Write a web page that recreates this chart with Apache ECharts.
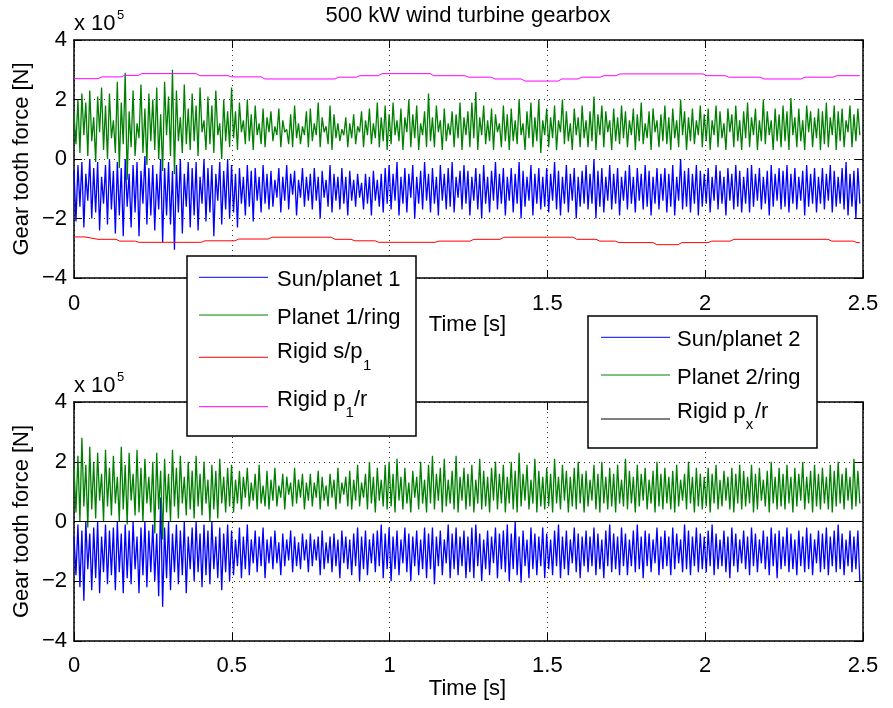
<!DOCTYPE html>
<html>
<head>
<meta charset="utf-8">
<script src="https://cdn.jsdelivr.net/npm/echarts@6/dist/echarts.min.js"></script>
<style>
html,body{margin:0;padding:0;background:#fff;}
#chart{width:893px;height:708px;}
</style>
</head>
<body>
<div id="chart"></div>
<script>
// ---------- DATA (forces in units of 1e5 N, time in s) ----------
const timeStart = 0;
const timeEnd = 2.49;
const xTickValues = [0, 0.5, 1, 1.5, 2, 2.5];
const yTickValues = [-4, -2, 0, 2, 4];

// Top plot: Sun/planet 1 (blue)
const sunPlanet1 = [
-0.4,-2.1,-0.2,-1.6,-0.1,-2.3,-0.5,-1.4,0.0,-2.0,-0.3,-1.8,-0.1,-2.4,-0.6,-1.5,-0.2,-2.2,0.0,-1.7,
-0.4,-2.5,-0.1,-1.9,-0.3,-2.6,0.0,-1.6,-0.5,-2.3,-0.2,-1.8,-0.1,-2.6,-0.4,-1.5,0.1,-2.2,-0.3,-1.9,
-0.2,-2.4,-0.5,-1.7,0.0,-2.8,-0.3,-1.9,-0.1,-2.2,-0.4,-3.05,-0.2,-1.8,0.0,-2.5,-0.5,-1.6,-0.1,-2.3,
-0.3,-1.9,-0.1,-2.4,-0.6,-1.5,0.0,-2.1,-0.3,-1.8,-0.2,-2.6,-0.5,-1.4,-0.1,-2.2,-0.4,-1.7,0.0,-2.0,
-0.2,-1.8,-0.5,-2.3,-0.3,-1.5,-0.6,-1.9,-0.2,-1.6,-0.4,-2.1,-0.3,-1.4,-0.6,-1.8,-0.2,-1.5,-0.5,-1.7,
-0.4,-1.6,-0.7,-1.3,-0.3,-1.8,-0.6,-1.4,-0.2,-1.7,-0.5,-1.2,-0.4,-1.9,-0.7,-1.3,-0.3,-1.6,-0.6,-1.4,
-0.5,-1.7,-0.3,-1.4,-0.6,-2.0,-0.4,-1.3,-0.7,-1.6,-0.2,-1.8,-0.5,-1.4,-0.6,-1.7,-0.3,-1.5,-0.6,-1.9,
-0.4,-1.4,-0.7,-1.6,-0.5,-1.3,-0.8,-1.7,-0.5,-1.5,-0.6,-1.9,-0.4,-1.4,-0.7,-1.6,-0.5,-1.8,-0.3,-1.5,
-0.2,-1.7,-0.5,-1.4,-0.1,-1.9,-0.6,-1.5,-0.3,-1.8,-0.5,-1.3,-0.2,-2.0,-0.6,-1.5,-0.4,-1.7,-0.1,-1.4,
-0.5,-1.8,-0.3,-1.5,-0.6,-1.9,-0.2,-1.4,-0.5,-1.7,-0.3,-1.6,-0.1,-1.8,-0.6,-1.3,-0.4,-1.7,-0.2,-1.5,
-0.4,-1.9,-0.6,-1.4,-0.3,-1.7,-0.5,-2.0,-0.2,-1.5,-0.6,-1.8,-0.4,-1.4,-0.1,-1.7,-0.5,-1.5,-0.3,-1.9,
-0.6,-1.4,-0.3,-1.8,-0.5,-1.5,-0.1,-2.0,-0.4,-1.6,-0.6,-1.4,-0.2,-1.9,-0.5,-1.5,-0.3,-1.7,-0.6,-1.6,
-0.3,-1.8,-0.5,-1.4,-0.1,-1.7,-0.4,-1.9,-0.6,-1.5,-0.2,-1.8,-0.5,-1.4,-0.3,-2.0,-0.6,-1.6,-0.4,-1.5,
-0.2,-1.7,-0.5,-1.5,0.0,-2.0,-0.4,-1.6,-0.3,-1.8,-0.6,-1.4,-0.2,-1.7,-0.5,-1.5,-0.3,-1.9,-0.6,-1.4,
-0.4,-1.7,-0.2,-1.5,-0.6,-1.8,-0.3,-1.4,-0.5,-1.7,-0.2,-1.6,-0.4,-1.9,-0.6,-1.5,-0.3,-1.7,-0.5,-1.4,
-0.3,-1.8,-0.5,-1.6,-0.2,-1.9,-0.6,-1.4,0.0,-1.7,-0.4,-1.6,-0.3,-1.8,-0.5,-1.5,-0.2,-1.9,-0.4,-1.6,
-0.5,-1.5,-0.3,-1.8,-0.6,-1.4,-0.2,-1.7,-0.4,-1.5,-0.6,-1.9,-0.3,-1.4,-0.5,-1.7,-0.2,-1.6,-0.4,-1.8,
-0.6,-1.5,-0.3,-1.8,-0.2,-1.6,-0.5,-1.4,-0.3,-1.7,-0.6,-1.5,-0.4,-1.9,-0.2,-1.6,-0.5,-1.4,-0.3,-1.7,
-0.4,-1.6,-0.2,-1.8,-0.5,-1.5,-0.3,-1.7,-0.6,-1.4,-0.4,-1.9,-0.2,-1.6,-0.5,-1.5,-0.3,-1.8,-0.6,-1.5,
-0.3,-1.7,-0.5,-1.4,-0.2,-1.8,-0.4,-1.6,-0.6,-1.5,-0.3,-1.7,-0.1,-1.9,-0.5,-1.6,-0.4,-2.0,-0.3,-1.5
];

// Top plot: Planet 1/ring (green)
const planet1Ring = [
1.5,0.5,2.0,0.2,2.2,0.8,1.9,0.1,2.3,0.6,1.4,-0.1,2.1,0.9,2.4,0.3,1.8,0.0,2.2,0.7,
1.3,0.2,2.6,-0.3,1.9,0.5,2.9,-0.7,1.6,0.4,2.3,0.1,1.2,0.7,2.5,0.2,1.7,-0.2,2.2,0.6,
2.0,0.3,2.4,0.0,1.5,-0.4,2.6,0.8,2.1,0.1,3.0,-0.5,2.3,0.6,1.4,0.2,2.5,0.5,1.7,0.3,
2.2,0.6,1.8,0.1,2.4,0.9,1.3,0.3,2.1,0.5,1.8,0.2,2.3,0.8,1.2,0.0,2.0,0.6,1.6,0.4,
2.4,0.7,1.6,0.3,1.9,0.9,1.3,0.5,2.0,0.6,1.5,0.3,1.8,0.8,1.2,0.5,1.7,0.4,1.4,0.9,
1.6,0.6,1.1,0.8,1.7,0.4,1.3,0.9,1.0,0.5,1.5,0.4,1.8,0.7,1.2,0.5,1.1,0.8,1.6,0.4,
1.7,0.6,1.2,0.8,1.9,0.4,1.4,0.9,1.1,0.5,1.8,0.3,1.5,0.7,1.2,0.6,1.0,0.8,1.4,0.4,
1.2,0.7,1.5,0.5,1.1,0.9,1.6,0.4,1.3,0.8,1.7,0.5,1.2,0.7,1.9,0.4,1.4,0.6,1.8,0.3,
1.5,0.5,1.9,0.8,1.3,0.6,1.7,0.3,1.4,0.9,2.0,0.4,1.5,0.7,1.8,0.3,1.2,0.8,1.6,0.4,
2.2,0.6,1.4,0.4,1.8,0.9,1.3,0.3,1.7,0.6,1.2,0.8,1.6,0.4,1.5,0.7,1.9,0.3,1.4,0.8,
1.6,0.4,1.9,0.7,2.25,0.3,1.4,0.8,1.8,0.5,1.3,0.6,1.7,0.3,1.5,0.9,1.2,0.4,1.8,0.6,
1.5,0.3,1.7,0.6,1.3,0.5,2.0,0.8,1.2,0.3,1.6,0.7,1.9,0.4,1.4,0.6,2.0,0.2,1.3,0.8,
1.7,0.4,1.4,0.7,1.8,0.3,1.3,0.9,2.0,0.5,1.6,0.6,1.2,0.3,1.7,0.8,1.4,0.4,1.8,0.7,
1.3,0.4,1.6,0.6,2.1,0.3,1.5,0.8,1.8,0.4,1.6,0.9,1.3,0.3,1.7,0.6,1.4,0.5,1.8,0.7,
1.6,0.4,1.3,0.8,1.7,0.3,1.5,0.6,1.9,0.5,1.2,0.7,1.6,0.3,1.7,0.9,1.3,0.4,1.5,0.6,
1.8,0.5,1.4,0.3,1.7,0.7,1.3,0.4,2.0,0.8,1.6,0.3,1.4,0.6,1.7,0.5,1.3,0.8,1.8,0.4,
1.5,0.6,1.7,0.3,1.3,0.8,1.8,0.4,1.6,0.7,1.2,0.3,1.7,0.9,1.5,0.4,1.8,0.6,1.3,0.3,
1.6,0.7,1.9,0.4,1.4,0.8,1.7,0.3,1.3,0.6,2.0,0.5,1.6,0.8,1.3,0.3,1.7,0.6,1.5,0.4,
1.8,0.6,1.6,0.3,2.05,0.8,1.4,0.4,1.7,0.6,1.3,0.3,1.8,0.9,1.6,0.4,1.4,0.7,1.7,0.3,
1.6,0.5,1.9,0.4,1.4,0.8,1.8,0.3,1.6,0.6,1.7,0.4,1.3,0.9,1.8,0.4,1.5,0.6,1.7,0.8
];

// Top plot: rigid-model forces (step-like)
const rigidSP1Time = [0,0.035,0.076,0.133,0.145,0.194,0.206,0.403,0.415,0.510,0.522,0.615,0.627,0.815,0.827,0.878,0.890,0.954,0.966,1.144,1.156,1.255,1.267,1.350,1.362,1.581,1.593,1.654,1.666,1.715,1.727,1.835,1.847,1.914,1.926,2.009,2.021,2.079,2.091,2.389,2.401,2.469,2.481,2.49];
const rigidSP1Force = [-2.62,-2.62,-2.70,-2.70,-2.76,-2.76,-2.80,-2.80,-2.75,-2.75,-2.69,-2.69,-2.63,-2.63,-2.70,-2.70,-2.75,-2.75,-2.80,-2.80,-2.76,-2.76,-2.70,-2.70,-2.63,-2.63,-2.70,-2.70,-2.76,-2.76,-2.81,-2.81,-2.88,-2.88,-2.81,-2.81,-2.76,-2.76,-2.70,-2.70,-2.76,-2.76,-2.81,-2.81];
const rigidP1RTime = [0,0.076,0.088,0.149,0.161,0.203,0.215,0.387,0.399,0.488,0.500,0.593,0.605,0.827,0.839,0.894,0.906,0.964,0.976,1.128,1.140,1.239,1.251,1.322,1.334,1.417,1.429,1.534,1.546,1.597,1.609,1.667,1.679,1.718,1.730,1.993,2.005,2.063,2.075,2.174,2.186,2.304,2.316,2.405,2.417,2.49];
const rigidP1RForce = [2.70,2.70,2.76,2.76,2.81,2.81,2.87,2.87,2.80,2.80,2.76,2.76,2.69,2.69,2.75,2.75,2.80,2.80,2.87,2.87,2.80,2.80,2.75,2.75,2.69,2.69,2.62,2.62,2.69,2.69,2.75,2.75,2.80,2.80,2.86,2.86,2.80,2.80,2.75,2.75,2.69,2.69,2.75,2.75,2.80,2.80];

// Bottom plot: Sun/planet 2 (blue)
const sunPlanet2 = [
-0.5,-1.8,-0.1,-2.2,-0.3,-2.65,0.0,-1.6,-0.4,-2.3,-0.2,-1.9,0.0,-2.4,-0.5,-1.7,-0.1,-2.1,-0.3,-1.8,
-0.2,-2.3,0.0,-1.7,-0.4,-2.4,-0.1,-1.9,-0.3,-2.1,0.0,-1.6,-0.5,-2.4,-0.2,-1.8,0.0,-2.2,-0.3,-1.7,
-0.1,-2.0,-0.4,-2.5,0.8,-2.85,-0.2,-1.9,0.0,-2.3,-0.4,-1.7,-0.1,-2.1,-0.3,-1.8,0.0,-2.4,-0.5,-1.6,
-0.2,-2.0,0.0,-1.7,-0.4,-2.2,-0.1,-1.8,-0.3,-2.1,0.0,-1.6,-0.5,-1.9,-0.2,-2.3,-0.4,-1.7,-0.1,-2.0,
-0.3,-1.8,-0.6,-1.5,-0.2,-1.9,-0.5,-1.6,-0.1,-1.8,-0.6,-1.4,-0.3,-1.7,-0.5,-1.5,-0.2,-1.9,-0.6,-1.4,
-0.5,-1.6,-0.3,-1.4,-0.7,-1.8,-0.4,-1.5,-0.6,-1.3,-0.3,-1.7,-0.5,-1.5,-0.7,-1.6,-0.4,-1.3,-0.6,-1.7,
-0.4,-1.5,-0.6,-1.3,-0.5,-1.8,-0.3,-1.6,-0.7,-1.4,-0.5,-1.7,-0.4,-1.5,-0.6,-1.9,-0.3,-1.4,-0.5,-1.6,
-0.6,-1.8,-0.4,-1.5,-0.2,-2.0,-0.5,-1.6,-0.3,-1.8,-0.6,-1.4,-0.4,-1.7,-0.3,-1.5,-0.1,-1.9,-0.4,-1.6,
-0.2,-2.0,-0.5,-1.6,-0.3,-1.8,-0.6,-1.4,-0.2,-1.7,-0.4,-2.0,-0.5,-1.5,-0.3,-1.8,-0.6,-1.6,-0.2,-1.9,
-0.4,-1.6,-0.2,-2.1,-0.5,-1.5,-0.3,-1.8,-0.6,-1.4,-0.1,-1.9,-0.4,-1.6,-0.2,-1.8,-0.5,-1.5,-0.3,-1.9,
-0.5,-1.7,-0.2,-1.9,-0.1,-1.5,-0.4,-2.0,-0.6,-1.6,-0.3,-1.8,-0.5,-1.4,-0.2,-1.9,-0.4,-1.6,-0.3,-1.7,
-0.1,-2.0,-0.4,-1.6,0.0,-1.8,-0.5,-2.05,-0.3,-1.5,-0.6,-1.9,-0.2,-1.6,-0.4,-1.8,-0.5,-1.5,-0.2,-1.9,
-0.4,-1.6,-0.6,-1.8,-0.3,-1.5,-0.1,-1.9,-0.5,-1.6,-0.3,-1.8,-0.6,-1.4,-0.2,-1.7,-0.4,-1.9,-0.5,-1.5,
-0.3,-1.7,-0.5,-1.5,-0.2,-1.8,-0.4,-1.6,-0.6,-1.9,-0.3,-1.5,-0.1,-1.7,-0.4,-1.6,-0.5,-1.8,-0.2,-1.5,
-0.4,-1.8,-0.6,-1.5,-0.3,-1.7,-0.1,-1.6,-0.5,-1.9,-0.3,-1.5,-0.4,-1.7,-0.6,-1.4,-0.2,-1.8,-0.5,-1.6,
-0.3,-1.5,-0.5,-1.8,-0.2,-1.6,-0.4,-1.4,-0.6,-1.7,-0.1,-1.6,-0.3,-1.8,-0.5,-1.5,-0.2,-1.7,-0.4,-1.6,
-0.5,-1.7,-0.3,-1.5,-0.1,-1.8,-0.4,-1.6,-0.6,-1.5,-0.3,-1.7,-0.5,-1.9,-0.2,-1.5,-0.4,-1.7,-0.6,-1.4,
-0.3,-1.6,-0.5,-1.8,-0.2,-1.5,-0.4,-1.7,-0.6,-1.4,-0.3,-1.6,-0.5,-1.8,-0.2,-1.5,-0.4,-1.9,-0.3,-1.6,
-0.5,-1.5,-0.2,-1.7,-0.4,-1.6,-0.6,-1.8,-0.3,-1.5,-0.5,-1.7,-0.2,-1.6,-0.4,-1.8,-0.6,-1.4,-0.3,-1.7,
-0.4,-1.6,-0.2,-1.8,-0.5,-1.5,-0.3,-1.7,-0.1,-1.6,-0.4,-1.8,-0.6,-1.5,-0.3,-1.7,-0.5,-1.6,-0.3,-2.0
];

// Bottom plot: Planet 2/ring (green)
const planet2Ring = [
1.8,0.3,2.2,0.0,2.8,0.5,1.9,-0.2,2.5,0.4,2.0,0.1,2.3,0.7,1.6,0.0,2.4,0.5,1.8,0.2,
2.2,0.6,1.5,0.0,2.5,0.4,1.9,-0.1,2.3,0.7,1.6,0.2,2.4,0.3,1.8,0.0,2.1,0.6,1.5,0.3,
2.0,-0.4,2.3,0.4,1.7,-0.6,2.1,0.3,1.6,0.0,2.4,0.5,1.8,0.1,2.2,0.6,1.5,0.2,2.0,0.4,
1.7,0.1,2.2,0.5,1.6,0.2,2.0,0.6,1.4,0.0,1.9,0.4,1.7,0.1,2.1,0.6,1.5,0.3,1.8,0.5,
1.9,0.3,1.4,0.6,1.7,0.4,1.5,0.8,1.8,0.5,1.3,0.7,1.6,0.4,1.9,0.6,1.2,0.5,1.7,0.4,
1.4,0.7,1.8,0.5,1.2,0.8,1.6,0.4,1.5,0.9,1.3,0.5,1.8,0.6,1.4,0.8,1.6,0.4,1.3,0.7,
1.6,0.5,1.3,0.8,1.7,0.4,1.5,0.7,1.2,0.5,1.6,0.8,1.4,0.4,1.8,0.6,1.3,0.9,1.5,0.5,
1.7,0.4,1.4,0.7,1.9,0.5,1.3,0.8,1.6,0.4,2.0,0.6,1.5,0.3,1.8,0.7,1.4,0.5,1.9,0.4,
2.0,0.5,1.6,0.3,2.1,0.7,1.5,0.4,1.8,0.6,1.3,0.3,1.7,0.8,1.5,0.4,2.0,0.6,1.4,0.3,
1.9,0.6,2.2,0.4,1.6,0.7,1.8,0.3,2.1,0.5,1.4,0.6,1.7,0.4,2.2,0.3,1.5,0.7,1.8,0.4,
1.6,0.5,1.9,0.3,1.4,0.6,2.1,0.4,1.7,0.5,1.5,0.3,1.8,0.7,2.0,0.4,1.6,0.6,1.9,0.3,
1.5,0.6,2.0,0.4,1.7,0.3,2.3,0.5,1.6,0.7,1.9,0.4,1.4,0.6,2.1,0.3,1.7,0.5,1.5,0.4,
1.8,0.5,1.6,0.3,2.1,0.6,1.5,0.4,1.9,0.7,1.7,0.3,1.5,0.5,1.8,0.4,2.0,0.6,1.6,0.3,
1.7,0.5,1.4,0.7,1.9,0.4,1.6,0.3,2.0,0.6,1.5,0.4,1.8,0.5,1.6,0.3,1.9,0.6,1.4,0.5,
2.1,0.4,1.7,0.6,1.5,0.3,1.9,0.5,1.6,0.7,1.8,0.4,1.4,0.6,1.7,0.3,2.0,0.5,1.6,0.4,
1.8,0.6,1.5,0.4,1.7,0.3,1.9,0.5,1.4,0.7,1.6,0.4,2.0,0.6,1.5,0.3,1.8,0.5,1.6,0.4,
1.5,0.5,1.8,0.3,1.6,0.6,1.9,0.4,1.4,0.5,1.7,0.7,1.5,0.4,1.8,0.3,1.6,0.6,1.9,0.4,
1.7,0.5,1.5,0.6,1.9,0.3,1.6,0.4,1.8,0.7,1.4,0.5,1.7,0.3,2.0,0.6,1.5,0.4,1.8,0.5,
1.6,0.4,1.9,0.6,1.5,0.3,1.8,0.5,1.6,0.7,2.0,0.4,1.5,0.6,1.7,0.3,1.9,0.5,1.6,0.4,
1.8,0.6,1.5,0.4,1.9,0.3,1.7,0.5,2.0,0.6,1.6,0.4,1.8,0.7,1.5,0.4,2.1,0.5,1.7,0.6
];

// Bottom plot: rigid p_x/r (black)
const rigidPxRTime = [0, 2.5];
const rigidPxRForce = [0, 0];

// ---------- helpers ----------
const FONT = '"Liberation Sans", Arial, Helvetica, sans-serif';
function sampled(values) {
  const step = (timeEnd - timeStart) / (values.length - 1);
  return values.map((v, i) => [timeStart + i * step, v]);
}
function paired(times, values) { return times.map((t, i) => [t, values[i]]); }
function fmtY(v) { return v < 0 ? '\u2212' + Math.abs(v) : String(v); }

const axisLineStyle = { color: '#000', width: 1.5 };
const gridLine = { show: true, lineStyle: { color: '#333', width: 1, type: [1, 4] } };

function xAxes(g, labelMargin) {
  return [
    { type: 'value', gridIndex: g, min: xTickValues[0], max: xTickValues[xTickValues.length - 1], interval: 0.5,
      position: 'bottom',
      axisLine: { show: true, onZero: false, lineStyle: axisLineStyle },
      axisTick: { show: true, inside: true, length: 8, lineStyle: { color: '#000', width: 1 } },
      axisLabel: { show: true, color: '#000', fontSize: 22, fontFamily: FONT, margin: labelMargin,
        formatter: v => String(v), showMinLabel: true, showMaxLabel: true },
      splitLine: gridLine },
    { type: 'value', gridIndex: g, min: xTickValues[0], max: xTickValues[xTickValues.length - 1], interval: 0.5,
      position: 'top',
      axisLine: { show: true, onZero: false, lineStyle: axisLineStyle },
      axisTick: { show: true, inside: true, length: 8, lineStyle: { color: '#000', width: 1 } },
      axisLabel: { show: false }, splitLine: { show: false } }
  ];
}
function yAxes(g) {
  return [
    { type: 'value', gridIndex: g, min: yTickValues[0], max: yTickValues[yTickValues.length - 1], interval: 2,
      position: 'left',
      axisLine: { show: true, onZero: false, lineStyle: axisLineStyle },
      axisTick: { show: true, inside: true, length: 8, lineStyle: { color: '#000', width: 1 } },
      axisLabel: { show: true, color: '#000', fontSize: 22, fontFamily: FONT, margin: 7,
        padding: [8, 0, 0, 0], formatter: fmtY, showMinLabel: true, showMaxLabel: true },
      splitLine: gridLine },
    { type: 'value', gridIndex: g, min: yTickValues[0], max: yTickValues[yTickValues.length - 1], interval: 2,
      position: 'right',
      axisLine: { show: true, onZero: false, lineStyle: axisLineStyle },
      axisTick: { show: true, inside: true, length: 8, lineStyle: { color: '#000', width: 1 } },
      axisLabel: { show: false }, splitLine: { show: false } }
  ];
}
function lineSeries(name, data, color, xIdx, yIdx, width) {
  return { name, type: 'line', data, xAxisIndex: xIdx, yAxisIndex: yIdx,
    showSymbol: false, symbol: 'none', silent: true, animation: false,
    lineStyle: { color, width: width || 1 }, itemStyle: { color } };
}
function txt(x, y, text, size, align, extra) {
  return Object.assign({ type: 'text', x, y, z: 100,
    style: { text, font: size + 'px ' + FONT, fill: '#000', align: align || 'left', verticalAlign: 'middle' } }, extra || {});
}
function seg(x1, x2, y, color) {
  return { type: 'line', z: 100, shape: { x1, y1: y, x2, y2: y }, style: { stroke: color, lineWidth: 1 } };
}

const chart = echarts.init(document.getElementById('chart'), null, { renderer: 'canvas' });
chart.setOption({
  backgroundColor: '#fff',
  animation: false,
  grid: [
    { left: 74, top: 40, width: 789, height: 238, containLabel: false },
    { left: 74, top: 402, width: 789, height: 239, containLabel: false }
  ],
  xAxis: [...xAxes(0, 15), ...xAxes(1, 14)],
  yAxis: [...yAxes(0), ...yAxes(1)],
  series: [
    lineSeries('Sun/planet 1', sampled(sunPlanet1), '#0000ff', 0, 0, 1.3),
    lineSeries('Planet 1/ring', sampled(planet1Ring), '#008000', 0, 0, 1.3),
    lineSeries('Rigid s/p1', paired(rigidSP1Time, rigidSP1Force), '#ff0000', 0, 0),
    lineSeries('Rigid p1/r', paired(rigidP1RTime, rigidP1RForce), '#ff00ff', 0, 0),
    lineSeries('Sun/planet 2', sampled(sunPlanet2), '#0000ff', 2, 2, 1.3),
    lineSeries('Planet 2/ring', sampled(planet2Ring), '#008000', 2, 2, 1.3),
    lineSeries('Rigid px/r', paired(rigidPxRTime, rigidPxRForce), '#000000', 2, 2, 1.2)
  ],
  graphic: [
    txt(468, 16, '500 kW wind turbine gearbox', 22, 'center'),
    // scale factors
    txt(74, 24, 'x 10', 22, 'left'),
    txt(117, 15, '5', 13, 'left'),
    txt(74, 386, 'x 10', 22, 'left'),
    txt(117, 377, '5', 13, 'left'),
    // axis names
    txt(21.5, 159, 'Gear tooth force [N]', 22, 'center', { rotation: Math.PI / 2 }),
    txt(21.5, 521.5, 'Gear tooth force [N]', 22, 'center', { rotation: Math.PI / 2 }),
    txt(467.5, 325, 'Time [s]', 22, 'center'),
    txt(467.5, 689, 'Time [s]', 22, 'center'),
    // legend 1
    { type: 'rect', z: 99, shape: { x: 187, y: 256, width: 229, height: 180 },
      style: { fill: '#fff', stroke: '#000', lineWidth: 1.5 } },
    seg(199, 268, 277.3, '#0000ff'),
    seg(199, 268, 315, '#008000'),
    seg(199, 268, 357.3, '#ff0000'),
    seg(199, 268, 406.7, '#ff00ff'),
    txt(277, 280, 'Sun/planet 1', 22),
    txt(277, 318.3, 'Planet 1/ring', 22),
    txt(277, 352, 'Rigid s/p', 22),
    txt(363, 366, '1', 15),
    txt(277, 400, 'Rigid p', 22),
    txt(345.5, 413.3, '1', 15),
    txt(354, 400, '/r', 22),
    // legend 2
    { type: 'rect', z: 99, shape: { x: 588, y: 316, width: 229, height: 132 },
      style: { fill: '#fff', stroke: '#000', lineWidth: 1.5 } },
    seg(601, 670, 337.3, '#0000ff'),
    seg(601, 670, 375, '#008000'),
    seg(601, 670, 419, '#000000'),
    txt(677, 340, 'Sun/planet 2', 22),
    txt(677, 378.3, 'Planet 2/ring', 22),
    txt(677, 412, 'Rigid p', 22),
    txt(745.7, 424.5, 'x', 15),
    txt(755, 412, '/r', 22)
  ]
});
</script>
</body>
</html>
